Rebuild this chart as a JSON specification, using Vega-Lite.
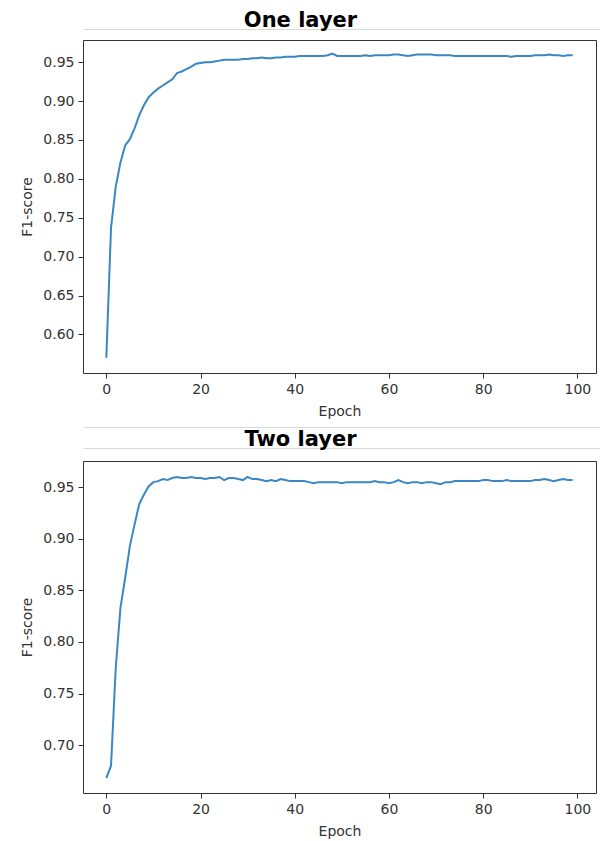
{
  "$schema": "https://vega.github.io/schema/vega-lite/v6.json",
  "padding": {"left": 20, "top": 9, "right": 0, "bottom": 0},
  "spacing": 7,
  "config": {
    "view": {"stroke": "#333", "strokeWidth": 1},
    "concat": {"spacing": 7},
    "axis": {
      "labelFont": "DejaVu Sans", "labelFontSize": 14, "labelColor": "#333",
      "titleFont": "DejaVu Sans", "titleFontSize": 14, "titleFontWeight": "normal", "titleColor": "#333",
      "tickColor": "#333", "tickSize": 5, "domain": false, "grid": false, "labelPadding": 4
    },
    "title": {"font": "DejaVu Sans", "fontSize": 21, "fontWeight": "bold", "color": "#000", "anchor": "middle", "offset": -2, "dx": -41}
  },
  "datasets": {
    "one": [
      {"epoch":0,"f1":0.570},{"epoch":1,"f1":0.737},{"epoch":2,"f1":0.790},{"epoch":3,"f1":0.821},{"epoch":4,"f1":0.843},
      {"epoch":5,"f1":0.851},{"epoch":6,"f1":0.865},{"epoch":7,"f1":0.882},{"epoch":8,"f1":0.895},{"epoch":9,"f1":0.905},
      {"epoch":10,"f1":0.911},{"epoch":11,"f1":0.916},{"epoch":12,"f1":0.920},{"epoch":13,"f1":0.924},{"epoch":14,"f1":0.928},
      {"epoch":15,"f1":0.936},{"epoch":16,"f1":0.938},{"epoch":17,"f1":0.941},{"epoch":18,"f1":0.944},{"epoch":19,"f1":0.948},
      {"epoch":20,"f1":0.949},{"epoch":21,"f1":0.950},{"epoch":22,"f1":0.950},{"epoch":23,"f1":0.951},{"epoch":24,"f1":0.952},
      {"epoch":25,"f1":0.953},{"epoch":26,"f1":0.953},{"epoch":27,"f1":0.953},{"epoch":28,"f1":0.953},{"epoch":29,"f1":0.954},
      {"epoch":30,"f1":0.954},{"epoch":31,"f1":0.955},{"epoch":32,"f1":0.955},{"epoch":33,"f1":0.956},{"epoch":34,"f1":0.955},
      {"epoch":35,"f1":0.955},{"epoch":36,"f1":0.956},{"epoch":37,"f1":0.956},{"epoch":38,"f1":0.957},{"epoch":39,"f1":0.957},
      {"epoch":40,"f1":0.957},{"epoch":41,"f1":0.958},{"epoch":42,"f1":0.958},{"epoch":43,"f1":0.958},{"epoch":44,"f1":0.958},
      {"epoch":45,"f1":0.958},{"epoch":46,"f1":0.958},{"epoch":47,"f1":0.959},{"epoch":48,"f1":0.961},{"epoch":49,"f1":0.958},
      {"epoch":50,"f1":0.958},{"epoch":51,"f1":0.958},{"epoch":52,"f1":0.958},{"epoch":53,"f1":0.958},{"epoch":54,"f1":0.958},
      {"epoch":55,"f1":0.959},{"epoch":56,"f1":0.958},{"epoch":57,"f1":0.959},{"epoch":58,"f1":0.959},{"epoch":59,"f1":0.959},
      {"epoch":60,"f1":0.959},{"epoch":61,"f1":0.960},{"epoch":62,"f1":0.960},{"epoch":63,"f1":0.959},{"epoch":64,"f1":0.958},
      {"epoch":65,"f1":0.959},{"epoch":66,"f1":0.960},{"epoch":67,"f1":0.960},{"epoch":68,"f1":0.960},{"epoch":69,"f1":0.960},
      {"epoch":70,"f1":0.959},{"epoch":71,"f1":0.959},{"epoch":72,"f1":0.959},{"epoch":73,"f1":0.959},{"epoch":74,"f1":0.958},
      {"epoch":75,"f1":0.958},{"epoch":76,"f1":0.958},{"epoch":77,"f1":0.958},{"epoch":78,"f1":0.958},{"epoch":79,"f1":0.958},
      {"epoch":80,"f1":0.958},{"epoch":81,"f1":0.958},{"epoch":82,"f1":0.958},{"epoch":83,"f1":0.958},{"epoch":84,"f1":0.958},
      {"epoch":85,"f1":0.958},{"epoch":86,"f1":0.957},{"epoch":87,"f1":0.958},{"epoch":88,"f1":0.958},{"epoch":89,"f1":0.958},
      {"epoch":90,"f1":0.958},{"epoch":91,"f1":0.959},{"epoch":92,"f1":0.959},{"epoch":93,"f1":0.959},{"epoch":94,"f1":0.960},
      {"epoch":95,"f1":0.959},{"epoch":96,"f1":0.959},{"epoch":97,"f1":0.958},{"epoch":98,"f1":0.959},{"epoch":99,"f1":0.959}
    ],
    "two": [
      {"epoch":0,"f1":0.668},{"epoch":1,"f1":0.680},{"epoch":2,"f1":0.775},{"epoch":3,"f1":0.833},{"epoch":4,"f1":0.862},
      {"epoch":5,"f1":0.893},{"epoch":6,"f1":0.914},{"epoch":7,"f1":0.934},{"epoch":8,"f1":0.943},{"epoch":9,"f1":0.951},
      {"epoch":10,"f1":0.955},{"epoch":11,"f1":0.956},{"epoch":12,"f1":0.958},{"epoch":13,"f1":0.957},{"epoch":14,"f1":0.959},
      {"epoch":15,"f1":0.960},{"epoch":16,"f1":0.959},{"epoch":17,"f1":0.959},{"epoch":18,"f1":0.960},{"epoch":19,"f1":0.959},
      {"epoch":20,"f1":0.959},{"epoch":21,"f1":0.958},{"epoch":22,"f1":0.959},{"epoch":23,"f1":0.959},{"epoch":24,"f1":0.960},
      {"epoch":25,"f1":0.957},{"epoch":26,"f1":0.959},{"epoch":27,"f1":0.959},{"epoch":28,"f1":0.958},{"epoch":29,"f1":0.957},
      {"epoch":30,"f1":0.960},{"epoch":31,"f1":0.958},{"epoch":32,"f1":0.958},{"epoch":33,"f1":0.957},{"epoch":34,"f1":0.956},
      {"epoch":35,"f1":0.957},{"epoch":36,"f1":0.956},{"epoch":37,"f1":0.958},{"epoch":38,"f1":0.957},{"epoch":39,"f1":0.956},
      {"epoch":40,"f1":0.956},{"epoch":41,"f1":0.956},{"epoch":42,"f1":0.956},{"epoch":43,"f1":0.955},{"epoch":44,"f1":0.954},
      {"epoch":45,"f1":0.955},{"epoch":46,"f1":0.955},{"epoch":47,"f1":0.955},{"epoch":48,"f1":0.955},{"epoch":49,"f1":0.955},
      {"epoch":50,"f1":0.954},{"epoch":51,"f1":0.955},{"epoch":52,"f1":0.955},{"epoch":53,"f1":0.955},{"epoch":54,"f1":0.955},
      {"epoch":55,"f1":0.955},{"epoch":56,"f1":0.955},{"epoch":57,"f1":0.956},{"epoch":58,"f1":0.955},{"epoch":59,"f1":0.955},
      {"epoch":60,"f1":0.954},{"epoch":61,"f1":0.955},{"epoch":62,"f1":0.957},{"epoch":63,"f1":0.955},{"epoch":64,"f1":0.954},
      {"epoch":65,"f1":0.955},{"epoch":66,"f1":0.955},{"epoch":67,"f1":0.954},{"epoch":68,"f1":0.955},{"epoch":69,"f1":0.955},
      {"epoch":70,"f1":0.954},{"epoch":71,"f1":0.953},{"epoch":72,"f1":0.955},{"epoch":73,"f1":0.955},{"epoch":74,"f1":0.956},
      {"epoch":75,"f1":0.956},{"epoch":76,"f1":0.956},{"epoch":77,"f1":0.956},{"epoch":78,"f1":0.956},{"epoch":79,"f1":0.956},
      {"epoch":80,"f1":0.957},{"epoch":81,"f1":0.957},{"epoch":82,"f1":0.956},{"epoch":83,"f1":0.956},{"epoch":84,"f1":0.956},
      {"epoch":85,"f1":0.957},{"epoch":86,"f1":0.956},{"epoch":87,"f1":0.956},{"epoch":88,"f1":0.956},{"epoch":89,"f1":0.956},
      {"epoch":90,"f1":0.956},{"epoch":91,"f1":0.957},{"epoch":92,"f1":0.957},{"epoch":93,"f1":0.958},{"epoch":94,"f1":0.957},
      {"epoch":95,"f1":0.956},{"epoch":96,"f1":0.957},{"epoch":97,"f1":0.958},{"epoch":98,"f1":0.957},{"epoch":99,"f1":0.957}
    ],
    "blank": [],
    "spacer": [{}]
  },
  "vconcat": [
    {
      "title": "One layer",
      "width": 517, "height": 0.01,
      "view": {"stroke": "#d9d9d9"},
      "data": {"name": "blank"},
      "mark": {"type": "text", "text": ""},
      "encoding": {}
    },
    {
      "width": 513, "height": 333,
      "data": {"name": "one"},
      "mark": {"type": "line", "color": "#3a87c3", "strokeWidth": 2, "clip": true},
      "encoding": {
        "x": {"field": "epoch", "type": "quantitative", "scale": {"domain": [-4.95, 103.95], "nice": false, "zero": false},
              "axis": {"values": [0, 20, 40, 60, 80, 100], "title": "Epoch", "titlePadding": 8}},
        "y": {"field": "f1", "type": "quantitative", "scale": {"domain": [0.5505, 0.9785], "nice": false, "zero": false},
              "axis": {"values": [0.55, 0.6, 0.65, 0.7, 0.75, 0.8, 0.85, 0.9, 0.95], "format": ".2f", "title": "F1-score", "titlePadding": 8}}
      }
    },
    {
      "vconcat": [
        {
          "width": 517, "height": 0.01,
          "view": {"stroke": "#d9d9d9"},
          "data": {"name": "blank"},
          "mark": {"type": "text", "text": ""},
          "encoding": {}
        },
        {
          "title": "Two layer",
          "width": 517, "height": 0.01,
          "view": {"stroke": "#d9d9d9"},
          "data": {"name": "spacer"},
          "mark": {"type": "text", "text": "", "baseline": "top", "fontSize": 4, "y": 0, "x": 0},
          "encoding": {}
        }
      ],
      "spacing": 0
    },
    {
      "width": 513, "height": 332,
      "data": {"name": "two"},
      "mark": {"type": "line", "color": "#3a87c3", "strokeWidth": 2, "clip": true},
      "encoding": {
        "x": {"field": "epoch", "type": "quantitative", "scale": {"domain": [-4.95, 103.95], "nice": false, "zero": false},
              "axis": {"values": [0, 20, 40, 60, 80, 100], "title": "Epoch", "titlePadding": 8}},
        "y": {"field": "f1", "type": "quantitative", "scale": {"domain": [0.6535, 0.9755], "nice": false, "zero": false},
              "axis": {"values": [0.7, 0.75, 0.8, 0.85, 0.9, 0.95], "format": ".2f", "title": "F1-score", "titlePadding": 8}}
      }
    }
  ]
}
